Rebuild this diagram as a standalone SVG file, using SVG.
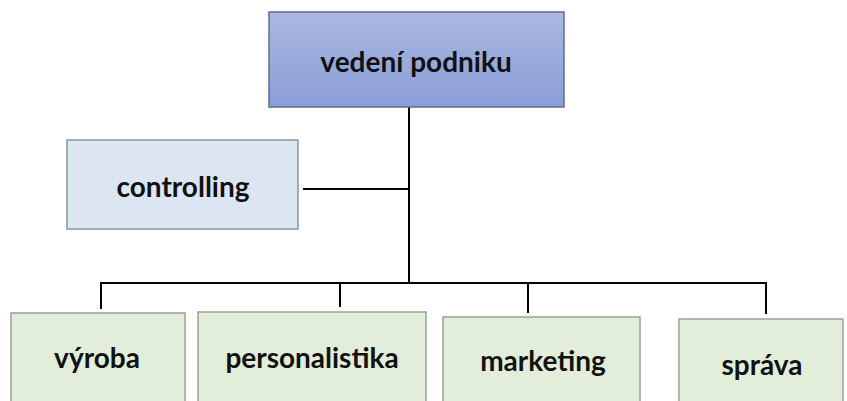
<svg xmlns="http://www.w3.org/2000/svg" width="847" height="401" viewBox="0 0 847 401">
<defs>
<linearGradient id="gTop" x1="0" y1="0" x2="0" y2="1">
<stop offset="0" stop-color="#AAB7E0"/>
<stop offset="1" stop-color="#8A9ED7"/>
</linearGradient>
<style>
.t{font-family:Lato,"Open Sans","Liberation Sans",sans-serif;font-weight:bold;font-size:28px;fill:#111;text-anchor:middle}
.g{fill:#E2EED9;stroke:#9AA296;stroke-width:1.5}
.c{fill:none;stroke:#000;stroke-width:2}
</style>
</defs>
<rect width="847" height="401" fill="#fff"/>
<g id="connectors">
<path class="c" d="M409 107V283M303 189H409M101 309V283H766V314M340 283V307M528 283V313"/>
</g>
<g id="n-vedeni">
<rect x="269" y="12" width="295" height="95" fill="url(#gTop)" stroke="#5F6E8E" stroke-width="1.5"/>
<text class="t" x="416" y="72">vedení podniku</text>
</g>
<g id="n-controlling">
<rect x="67" y="140" width="231" height="89" fill="#DCE6F2" stroke="#8E959C" stroke-width="1.5"/>
<text class="t" x="183" y="197">controlling</text>
</g>
<g id="n-vyroba">
<rect class="g" x="11" y="313" width="174" height="100"/>
<text class="t" x="97" y="368">výroba</text>
</g>
<g id="n-personalistika">
<rect class="g" x="198" y="312" width="228" height="100"/>
<text class="t" x="312" y="368">personalistika</text>
</g>
<g id="n-marketing">
<rect class="g" x="443" y="317" width="197" height="100"/>
<text class="t" x="543" y="371">marketing</text>
</g>
<g id="n-sprava">
<rect class="g" x="679" y="319" width="164" height="100"/>
<text class="t" x="762" y="375">správa</text>
</g>
</svg>
